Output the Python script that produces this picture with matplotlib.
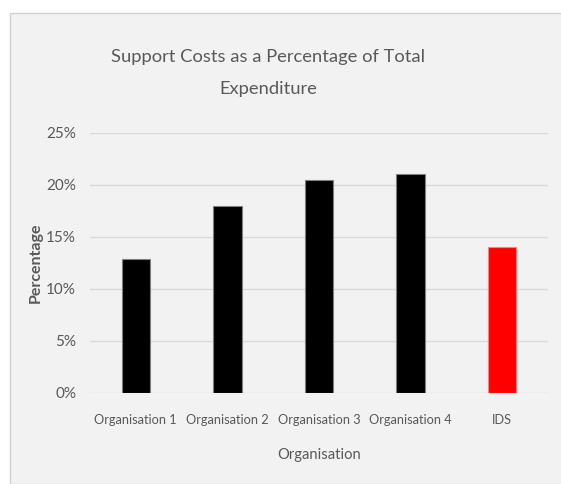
import matplotlib.pyplot as plt
from matplotlib.patches import Rectangle
from matplotlib.ticker import FuncFormatter

# support costs as share of total expenditure (%)
organisations = ["Organisation 1", "Organisation 2", "Organisation 3", "Organisation 4", "IDS"]
support_pct = [12.9, 18.0, 20.5, 21.1, 14.0]
bar_colours = ["black", "black", "black", "black", "red"]
edge_colours = ["#808080", "#808080", "#808080", "#808080", "#ff8080"]
y_ticks = [0, 5, 10, 15, 20, 25]

text_grey = "#595959"
plt.rcParams["font.family"] = ["Lato", "DejaVu Sans"]

W, H = 561, 484
fig = plt.figure(figsize=(W / 100, H / 100), dpi=100)
fig.patch.set_facecolor("white")

# chart area panel with thin border, behind the axes
panel = Rectangle((10 / W, 0), 1, 1 - 13 / H, transform=fig.transFigure,
                  facecolor="#f2f2f2", edgecolor="#d0d0d0", linewidth=1, zorder=-1)
fig.add_artist(panel)

ax = fig.add_axes([90 / W, 1 - 393 / H, (548 - 90) / W, (393 - 133) / H])
ax.set_facecolor("none")

x = range(len(organisations))
ax.bar(x, support_pct, width=0.31, color=bar_colours, edgecolor=edge_colours,
       linewidth=0.8, zorder=3)

ax.set_xlim(-0.5, len(organisations) - 0.5)
ax.set_ylim(0, 25)
ax.set_yticks(y_ticks)
ax.yaxis.set_major_formatter(FuncFormatter(lambda v, _: f"{v:.0f}%"))
ax.set_xticks(list(x))
ax.set_xticklabels(organisations)

ax.grid(axis="y", color="#d9d9d9", linewidth=1, zorder=0)
for s in ["top", "right", "left", "bottom"]:
    ax.spines[s].set_visible(False)
ax.tick_params(length=0, colors=text_grey)
ax.tick_params(axis="y", pad=10, labelsize=11)
ax.tick_params(axis="x", pad=15, labelsize=9.2)

ax.set_xlabel("Organisation", color=text_grey, fontsize=10.6)
ax.xaxis.set_label_coords(0.5, -0.213)
ax.set_ylabel("Percentage", color=text_grey, fontsize=11.5, fontweight="bold")
ax.yaxis.set_label_coords(-0.104, 0.5)

fig.text(268 / W, 1 - 73 / H, "Support Costs as a Percentage of Total\nExpenditure",
         ha="center", va="center", fontsize=13.2, color=text_grey, linespacing=2.25)

fig.savefig("out.png", dpi=100)
